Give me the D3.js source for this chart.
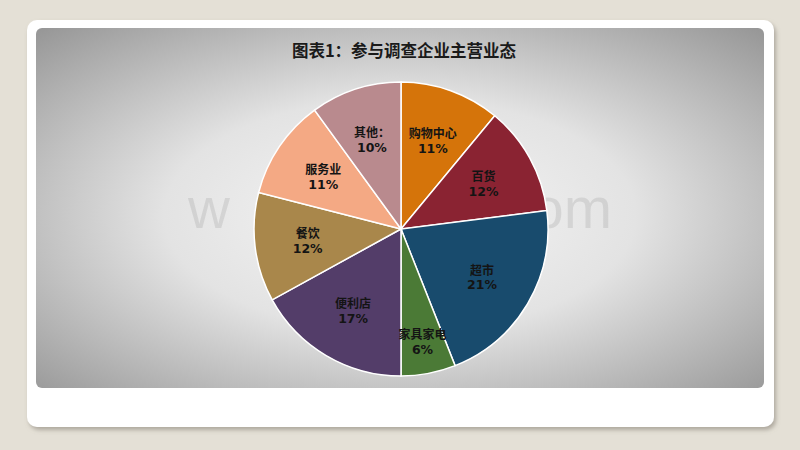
<!DOCTYPE html>
<html>
<head>
<meta charset="utf-8">
<script src="https://cdn.jsdelivr.net/npm/d3@7/dist/d3.min.js"></script>
<style>
  html, body { margin: 0; padding: 0; background: #e4e0d6; }
  svg { display: block; }
</style>
</head>
<body>
<svg id="chart" width="800" height="450"></svg>
<script>
// ---- data ----
const categories = ["购物中心", "百货", "超市", "家具家电", "便利店", "餐饮", "服务业", "其他："];
const values = [11, 12, 21, 6, 17, 12, 11, 10];
const colors = ["#d5740a", "#8a2332", "#184b6d", "#4b7a36", "#533d69", "#a9874b", "#f4a984", "#b98a8e"];
const title = "图表1：参与调查企业主营业态";
const watermarkParts = ["w", "om"];   // only the visible fragments of the faint background watermark

// ---- drawing ----
const svg = d3.select("#chart");
const W = 800, H = 450;

const defs = svg.append("defs");
const sh = defs.append("filter").attr("id", "shadow").attr("x", "-5%").attr("y", "-5%").attr("width", "110%").attr("height", "115%");
sh.append("feDropShadow").attr("dx", 2).attr("dy", 3).attr("stdDeviation", 2)
  .attr("flood-color", "#8a8478").attr("flood-opacity", 0.6);

const grad = defs.append("radialGradient").attr("id", "panelGrad")
  .attr("cx", "50%").attr("cy", "52%").attr("r", "72%");
grad.append("stop").attr("offset", "0%").attr("stop-color", "#f6f6f6");
grad.append("stop").attr("offset", "45%").attr("stop-color", "#e3e3e3");
grad.append("stop").attr("offset", "100%").attr("stop-color", "#969696");

// background
svg.append("rect").attr("width", W).attr("height", H).attr("fill", "#e4e0d6");
// white card
svg.append("rect").attr("x", 27).attr("y", 20).attr("width", 747).attr("height", 407)
  .attr("rx", 10).attr("fill", "#ffffff").attr("filter", "url(#shadow)");
// gray panel
svg.append("rect").attr("x", 36).attr("y", 28).attr("width", 728).attr("height", 360)
  .attr("rx", 6).attr("fill", "url(#panelGrad)");

// watermark fragments (left / right of the pie)
const wm = svg.append("g")
  .attr("font-family", "Liberation Sans, Arial, sans-serif")
  .attr("font-size", 58)
  .attr("fill", "#000").attr("fill-opacity", 0.085);
wm.append("text").attr("x", 188).attr("y", 228).attr("text-anchor", "start").text(watermarkParts[0]);
wm.append("text").attr("x", 612).attr("y", 228).attr("text-anchor", "end").text(watermarkParts[1]);

// title
svg.append("text").attr("x", 404).attr("y", 57)
  .attr("text-anchor", "middle")
  .attr("font-family", "Noto Sans CJK SC, sans-serif")
  .attr("font-weight", "bold").attr("font-size", 16.5)
  .attr("fill", "#1a1a1a")
  .text(title);

// pie
const cx = 401, cy = 229, R = 147;
const data = categories.map((c, i) => ({ name: c, value: values[i], color: colors[i] }));
const pie = d3.pie().value(d => d.value).sort(null);
const arcs = pie(data);
const arc = d3.arc().innerRadius(0).outerRadius(R);

const g = svg.append("g").attr("transform", `translate(${cx},${cy})`);
g.selectAll("path").data(arcs).enter().append("path")
  .attr("d", arc)
  .attr("fill", d => d.data.color)
  .attr("stroke", "#ffffff").attr("stroke-width", 1.5);

const total = d3.sum(values);
const labels = g.selectAll("text.lbl").data(arcs).enter().append("text")
  .attr("class", "lbl")
  .attr("text-anchor", "middle")
  .attr("font-family", "DejaVu Sans, Noto Sans CJK SC, sans-serif")
  .attr("font-weight", "bold").attr("font-size", 12.5)
  .attr("fill", "#141414")
  .attr("transform", d => {
    const frac = d.data.value / total;
    const r = frac < 0.08 ? R * 0.78 : R * 0.64;
    const a = (d.startAngle + d.endAngle) / 2;
    return `translate(${r * Math.sin(a)},${-r * Math.cos(a)})`;
  });
labels.append("tspan").attr("x", 0).attr("dy", "-0.2em")
  .attr("font-family", "Noto Sans CJK SC, sans-serif")
  .attr("font-size", 12)
  .text(d => d.data.name);
labels.append("tspan").attr("x", 0).attr("dy", "1.2em")
  .text(d => Math.round(d.data.value / total * 100) + "%");
</script>
</body>
</html>
